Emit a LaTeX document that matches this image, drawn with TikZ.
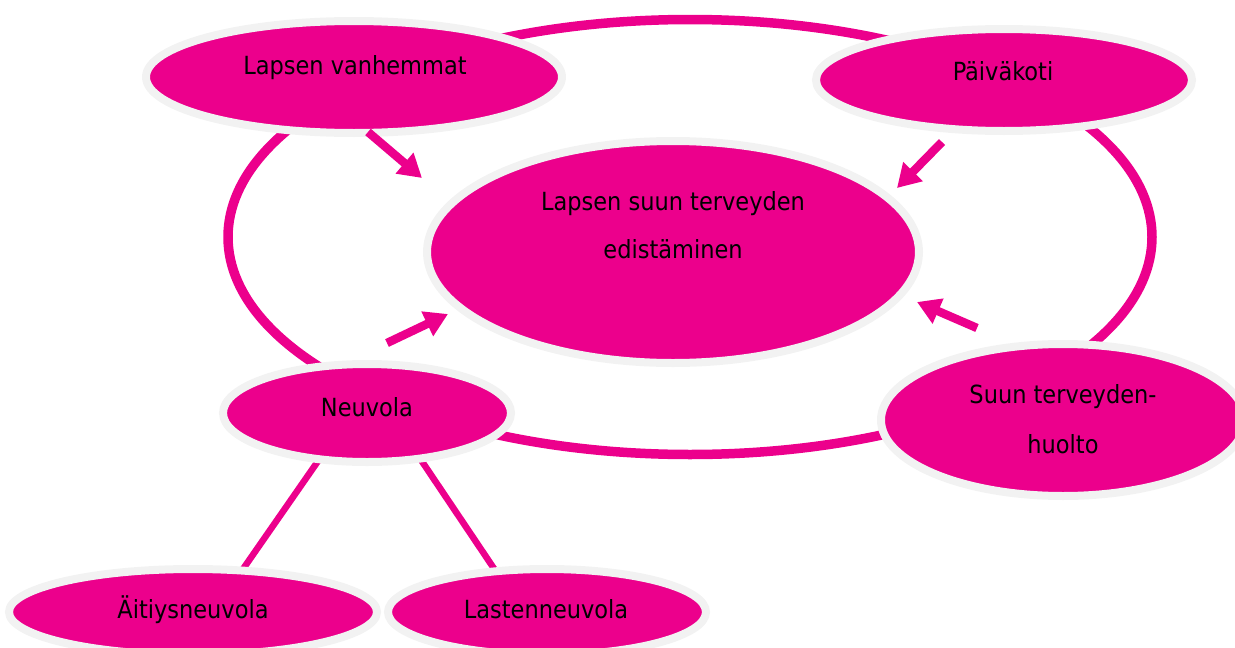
\documentclass[tikz,border=0pt]{standalone}
\usepackage{fontspec}
\setmainfont{DejaVu Sans Condensed}
\usetikzlibrary{shapes.geometric,arrows.meta}
\definecolor{mag}{HTML}{EC008C}
\definecolor{rim}{HTML}{F2F2F2}
\begin{document}
\begin{tikzpicture}[x=1pt,y=-1pt,
  bubble/.style={ellipse,draw=rim,line width=8pt,fill=mag,inner sep=0pt},
  lbl/.style={anchor=base,inner sep=0pt,font=\fontsize{25pt}{30pt}\selectfont,text=black},
  arr/.style={draw=mag,line width=8.5pt,-{Triangle[length=23pt,width=26pt]}},
  link/.style={draw=mag,line width=6.5pt}]
\clip (0,0) rectangle (1235,648);
% ring
\draw[mag,line width=9.5pt] (690,237) ellipse [x radius=462,y radius=217.5];
% link end points
\coordinate (n1) at (325,451);
\coordinate (a1) at (234,582);
\coordinate (n2) at (415,451);
\coordinate (a2) at (503,582);
\draw[link] (n1) -- (a1);
\draw[link] (n2) -- (a2);
% bubbles
\node[bubble,minimum width=492,minimum height=222] (cen) at (673,252) {};
\node[bubble,minimum width=416,minimum height=112] (lv) at (354,77) {};
\node[bubble,minimum width=376,minimum height=102] (pk) at (1004,80) {};
\node[bubble,minimum width=288,minimum height=98] (neu) at (367,413) {};
\node[bubble,minimum width=364,minimum height=152] (suun) at (1063,420) {};
\node[bubble,minimum width=368,minimum height=86] (ait) at (193,612) {};
\node[bubble,minimum width=318,minimum height=86] (las) at (547,612) {};
% texts
\node[lbl] (tcen1) at (673,210) {Lapsen suun terveyden};
\node[lbl] (tcen2) at (673,258) {edistäminen};
\node[lbl] (tlv) at (355,74) {Lapsen vanhemmat};
\node[lbl] (tpk) at (1003,80) {Päiväkoti};
\node[lbl] (tneu) at (367,416) {Neuvola};
\node[lbl] (tsuun1) at (1063,403) {Suun terveyden-};
\node[lbl] (tsuun2) at (1063,453) {huolto};
\node[lbl] (tait) at (193,618) {Äitiysneuvola};
\node[lbl] (tlas) at (546,618) {Lastenneuvola};
% arrows
\coordinate (s1) at (368,132); \coordinate (e1) at (422,178);
\coordinate (s2) at (942,142); \coordinate (e2) at (897,188);
\coordinate (s3) at (387,343); \coordinate (e3) at (448,314);
\coordinate (s4) at (977,328); \coordinate (e4) at (917,302);
\draw[arr] (s1) -- (e1);
\draw[arr] (s2) -- (e2);
\draw[arr] (s3) -- (e3);
\draw[arr] (s4) -- (e4);
\end{tikzpicture}
\end{document}
